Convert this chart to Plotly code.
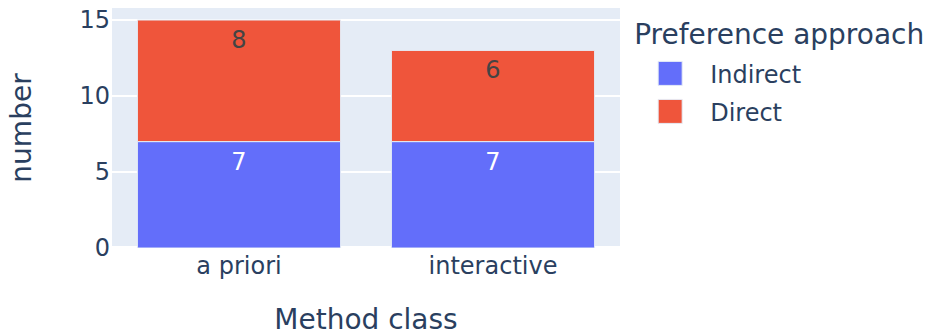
import plotly.graph_objects as go

method_class = ["a priori", "interactive"]
indirect = [7, 7]
direct = [8, 6]

fig = go.Figure()
fig.add_trace(go.Bar(name="Indirect", x=method_class, y=indirect,
                     marker_color="#636efa", text=indirect, textposition="auto"))
fig.add_trace(go.Bar(name="Direct", x=method_class, y=direct,
                     marker_color="#EF553B", text=direct, textposition="auto"))

# Figure laid out at half size and shown at 2x, like a scale=2 export
fig.update_layout(
    template="plotly",
    barmode="relative",
    width=465, height=168,
    margin=dict(l=56, r=155, t=4, b=44, autoexpand=False),
    font=dict(family="DejaVu Sans", size=12),
    legend=dict(title=dict(text="Preference approach"), tracegroupgap=0),
    xaxis=dict(title=dict(text="Method class")),
    yaxis=dict(title=dict(text="number", standoff=20), automargin=True),
)

fig.write_html(
    "out.html",
    config={"responsive": False},
    post_script="document.body.style.margin='0';document.body.style.zoom='2';",
)
